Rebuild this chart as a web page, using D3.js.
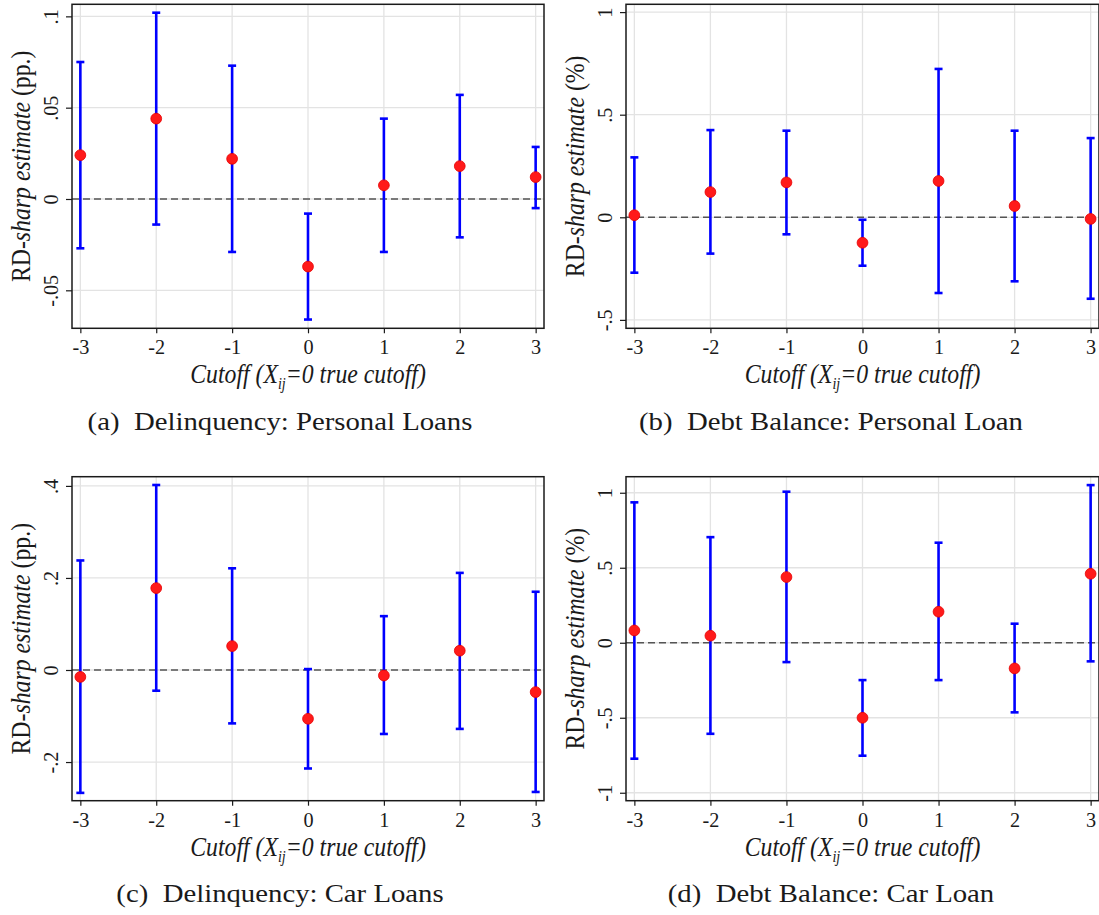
<!DOCTYPE html>
<html>
<head>
<meta charset="utf-8">
<script src="https://cdn.jsdelivr.net/npm/d3@7"></script>
<style>
  body { margin: 0; background: #fff; }
  svg { display: block; }
  text { font-family: "Liberation Serif", "Times New Roman", serif; fill: #1a1a1a; }
</style>
</head>
<body>
<svg id="chart" width="1099" height="915"></svg>
<script>
// x positions of the placebo cutoffs
const cutoffs = [-3, -2, -1, 0, 1, 2, 3];

// (a) delinquency, personal loans (pp.)
const delinqPersonalEst = [0.024, 0.044, 0.022, -0.037, 0.0075, 0.018, 0.012];
const delinqPersonalLo  = [-0.027, -0.014, -0.029, -0.066, -0.029, -0.021, -0.005];
const delinqPersonalHi  = [0.075, 0.102, 0.073, -0.008, 0.044, 0.057, 0.0285];

// (b) debt balance, personal loan (%)
const balancePersonalEst = [0.01, 0.123, 0.17, -0.124, 0.177, 0.055, -0.008];
const balancePersonalLo  = [-0.27, -0.177, -0.083, -0.236, -0.369, -0.312, -0.397];
const balancePersonalHi  = [0.292, 0.425, 0.422, -0.012, 0.723, 0.422, 0.386];

// (c) delinquency, car loans (pp.)
const delinqCarEst = [-0.015, 0.178, 0.052, -0.106, -0.012, 0.042, -0.048];
const delinqCarLo  = [-0.267, -0.045, -0.116, -0.214, -0.139, -0.128, -0.265];
const delinqCarHi  = [0.238, 0.402, 0.221, 0.002, 0.117, 0.211, 0.170];

// (d) debt balance, car loan (%)
const balanceCarEst = [0.082, 0.047, 0.438, -0.5, 0.207, -0.171, 0.46];
const balanceCarLo  = [-0.773, -0.607, -0.129, -0.753, -0.249, -0.464, -0.124];
const balanceCarHi  = [0.936, 0.704, 1.007, -0.249, 0.667, 0.127, 1.051];

// y ticks and their labels (Stata style, no leading zero)
const ticksA = [-0.05, 0, 0.05, 0.1],   labelsA = ["-.05", "0", ".05", ".1"];
const ticksB = [-0.5, 0, 0.5, 1],       labelsB = ["-.5", "0", ".5", "1"];
const ticksC = [-0.2, 0, 0.2, 0.4],     labelsC = ["-.2", "0", ".2", ".4"];
const ticksD = [-1, -0.5, 0, 0.5, 1],   labelsD = ["-1", "-.5", "0", ".5", "1"];
const xLabels = ["-3", "-2", "-1", "0", "1", "2", "3"];

const captions = [
  "(a)\u2002Delinquency: Personal Loans",
  "(b)\u2002Debt Balance: Personal Loan",
  "(c)\u2002Delinquency: Car Loans",
  "(d)\u2002Debt Balance: Car Loan"
];

const panels = [
  {est: delinqPersonalEst, lo: delinqPersonalLo, hi: delinqPersonalHi, ticks: ticksA, labels: labelsA,
   unit: "(pp.)", yDomain: [-0.0708, 0.1066], box: [72, 544, 4.3, 328.3], capX: 280, capY: 430},
  {est: balancePersonalEst, lo: balancePersonalLo, hi: balancePersonalHi, ticks: ticksB, labels: labelsB,
   unit: "(%)", yDomain: [-0.541, 1.038], box: [626, 1099, 4.3, 328.3], capX: 831, capY: 430},
  {est: delinqCarEst, lo: delinqCarLo, hi: delinqCarHi, ticks: ticksC, labels: labelsC,
   unit: "(pp.)", yDomain: [-0.284, 0.420], box: [72, 544, 476.7, 800.7], capX: 280, capY: 902},
  {est: balanceCarEst, lo: balanceCarLo, hi: balanceCarHi, ticks: ticksD, labels: labelsD,
   unit: "(%)", yDomain: [-1.053, 1.107], box: [626, 1099, 476.7, 800.7], capX: 831, capY: 902}
];

const svg = d3.select("#chart");

panels.forEach((p, k) => {
  const [x0, x1, y0, y1] = p.box;
  const x = d3.scaleLinear().domain([-3.11, 3.11]).range([x0, x1]);
  const y = d3.scaleLinear().domain(p.yDomain).range([y1, y0]);
  const g = svg.append("g");
  const rows = cutoffs.map((c, i) => ({c, est: p.est[i], lo: p.lo[i], hi: p.hi[i]}));

  // grid
  g.append("g").selectAll("line").data(p.ticks).join("line")
    .attr("x1", x0).attr("x2", x1)
    .attr("y1", d => y(d)).attr("y2", d => y(d))
    .attr("stroke", "#e3e3e3").attr("stroke-width", 1.3);
  g.append("g").selectAll("line").data(cutoffs).join("line")
    .attr("x1", d => x(d)).attr("x2", d => x(d))
    .attr("y1", y0).attr("y2", y1)
    .attr("stroke", "#e3e3e3").attr("stroke-width", 1.3);

  // zero reference line
  g.append("line")
    .attr("x1", x0).attr("x2", x1)
    .attr("y1", y(0)).attr("y2", y(0))
    .attr("stroke", "#555").attr("stroke-width", 1.5)
    .attr("stroke-dasharray", "7,4");

  // axes
  const xAxis = g.append("g")
    .attr("transform", `translate(0,${y1})`)
    .call(d3.axisBottom(x).tickValues(cutoffs).tickSize(5).tickFormat((d, i) => xLabels[i]));
  xAxis.select(".domain").remove();
  xAxis.selectAll(".tick line").attr("stroke", "#1a1a1a").attr("stroke-width", 1.2);
  xAxis.selectAll(".tick text")
    .attr("y", 26).attr("dy", 0)
    .attr("transform", "scale(0.92,1)")
    .attr("font-size", 22).attr("fill", "#1a1a1a")
    .attr("font-family", "Liberation Serif");

  const yAxis = g.append("g")
    .attr("transform", `translate(${x0},0)`)
    .call(d3.axisLeft(y).tickValues(p.ticks).tickSize(6).tickFormat((d, i) => p.labels[i]));
  yAxis.select(".domain").remove();
  yAxis.selectAll(".tick line").attr("stroke", "#1a1a1a").attr("stroke-width", 1.2);
  yAxis.selectAll(".tick text")
    .attr("x", 0).attr("y", -14).attr("dy", 0)
    .attr("transform", "rotate(-90) scale(0.92,1)")
    .attr("text-anchor", "middle")
    .attr("font-size", 22).attr("fill", "#1a1a1a")
    .attr("font-family", "Liberation Serif");

  // plot region outline
  g.append("rect")
    .attr("x", x0).attr("y", y0)
    .attr("width", x1 - x0).attr("height", y1 - y0)
    .attr("fill", "none").attr("stroke", "#1a1a1a").attr("stroke-width", 1.5);

  // confidence intervals
  const bars = g.append("g").attr("stroke", "#0000ff").attr("stroke-width", 2.6);
  bars.selectAll("line.ci").data(rows).join("line").attr("class", "ci")
    .attr("x1", d => x(d.c)).attr("x2", d => x(d.c))
    .attr("y1", d => y(d.lo)).attr("y2", d => y(d.hi));
  bars.selectAll("line.cap-hi").data(rows).join("line").attr("class", "cap-hi")
    .attr("x1", d => x(d.c) - 4).attr("x2", d => x(d.c) + 4)
    .attr("y1", d => y(d.hi)).attr("y2", d => y(d.hi));
  bars.selectAll("line.cap-lo").data(rows).join("line").attr("class", "cap-lo")
    .attr("x1", d => x(d.c) - 4).attr("x2", d => x(d.c) + 4)
    .attr("y1", d => y(d.lo)).attr("y2", d => y(d.lo));

  // point estimates
  g.append("g").selectAll("circle").data(rows).join("circle")
    .attr("cx", d => x(d.c)).attr("cy", d => y(d.est))
    .attr("r", 5.4)
    .attr("fill", "#ff1a1a").attr("stroke", "#e60000").attr("stroke-width", 0.8);

  // x title
  const xt = g.append("text")
    .attr("transform", `translate(${(x0 + x1) / 2},${y1 + 55}) scale(0.88,1)`)
    .attr("text-anchor", "middle")
    .attr("font-size", 27).attr("font-style", "italic");
  xt.append("tspan").text("Cutoff (X");
  xt.append("tspan").attr("font-size", 16).attr("dy", 6).text("ij");
  xt.append("tspan").attr("dy", -6).text("=0 true cutoff)");

  // y title
  const yt = g.append("text")
    .attr("transform", `translate(${x0 - 42},${(y0 + y1) / 2}) rotate(-90) scale(0.88,1)`)
    .attr("text-anchor", "middle")
    .attr("font-size", 27);
  yt.append("tspan").text("RD-");
  yt.append("tspan").attr("font-style", "italic").text("sharp estimate");
  yt.append("tspan").text(" " + p.unit);

  // subfigure caption
  svg.append("text")
    .attr("transform", `translate(${p.capX},${p.capY}) scale(1.15,1)`)
    .attr("text-anchor", "middle")
    .attr("font-size", 25)
    .attr("fill", "#111")
    .text(captions[k]);
});
</script>
</body>
</html>
